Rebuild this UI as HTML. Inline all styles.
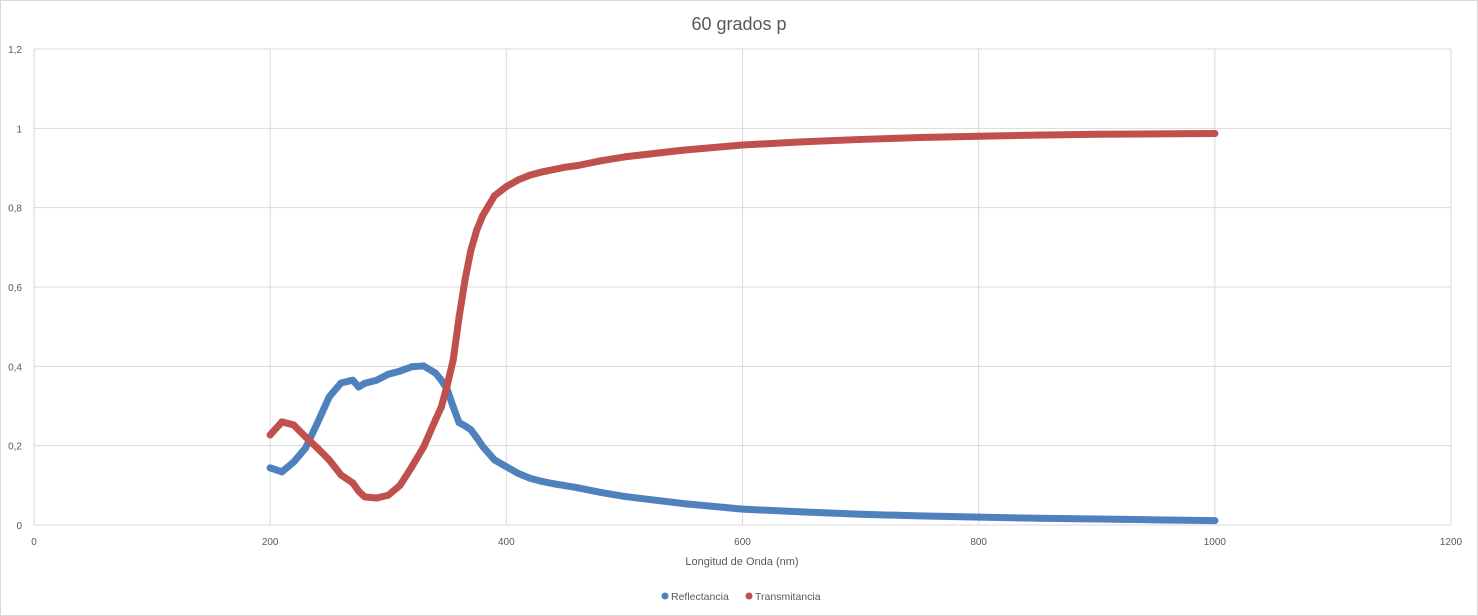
<!DOCTYPE html>
<html><head><meta charset="utf-8"><style>
body{margin:0;background:#fff}
svg{display:block;font-family:"Liberation Sans",sans-serif}
</style></head><body>
<svg id="chart" width="1478" height="616">
<rect x="0.5" y="0.5" width="1477" height="615" fill="#fff" stroke="#d9d9d9"/>
<text x="739" y="30" text-anchor="middle" font-size="18" fill="#595959">60 grados p</text>
<g id="grid"></g><g id="ticks"></g><g id="series"></g>
<text x="742" y="565" text-anchor="middle" font-size="11" fill="#595959">Longitud de Onda (nm)</text>
<g>
<g><circle cx="665" cy="596" r="3.5" fill="#4f81bd"/><text x="671" y="600" font-size="10.5" fill="#595959">Reflectancia</text></g>
<g><circle cx="749" cy="596" r="3.5" fill="#c0504d"/><text x="755" y="600" font-size="10.5" fill="#595959">Transmitancia</text></g>
</g>
</svg>
<script>
const wavelengths=[200,210,220,230,240,250,260,270,275,280,290,300,310,320,330,340,345,350,355,360,365,370,375,380,390,400,410,420,430,440,450,460,480,500,550,600,650,700,750,800,850,900,950,1000];
const reflectancia=[0.144,0.134,0.159,0.194,0.257,0.323,0.358,0.365,0.348,0.357,0.365,0.38,0.388,0.399,0.401,0.383,0.365,0.341,0.298,0.258,0.25,0.24,0.22,0.198,0.164,0.147,0.13,0.118,0.11,0.104,0.099,0.094,0.082,0.072,0.054,0.04,0.033,0.027,0.023,0.02,0.017,0.015,0.013,0.011];
const transmitancia=[0.227,0.26,0.252,0.222,0.194,0.164,0.126,0.106,0.085,0.071,0.068,0.075,0.1,0.147,0.197,0.265,0.298,0.353,0.416,0.524,0.618,0.693,0.744,0.78,0.83,0.853,0.87,0.882,0.89,0.896,0.902,0.906,0.918,0.928,0.945,0.958,0.966,0.972,0.977,0.98,0.983,0.985,0.986,0.987];
const xTicks=[0,200,400,600,800,1000,1200];
const yTicks=[0,0.2,0.4,0.6,0.8,1,1.2];
const yLabels=["0","0,2","0,4","0,6","0,8","1","1,2"];
const NS="http://www.w3.org/2000/svg";
const X=v=>34+v*(1417/1200), Y=v=>525-v*(476/1.2);
const grid=document.getElementById('grid'),ticks=document.getElementById('ticks'),ser=document.getElementById('series');
function mk(tag,a,p){const e=document.createElementNS(NS,tag);for(const k in a)e.setAttribute(k,a[k]);p.appendChild(e);return e;}
xTicks.forEach(t=>{
 const l=mk('line',{x1:X(t),x2:X(t),y1:Y(0),y2:Y(1.2),stroke:'#d9d9d9'},grid);
 
 
 const tx=mk('text',{x:X(t),y:545,'text-anchor':'middle','font-size':10,fill:'#595959'},ticks);tx.textContent=t;
 
 
});
yTicks.forEach((t,i)=>{
 const l=mk('line',{x1:X(0),x2:X(1200),y1:Y(t),y2:Y(t),stroke:'#d9d9d9'},grid);
 
 
 const tx=mk('text',{x:22,y:Y(t)+4,'text-anchor':'end','font-size':10,fill:'#595959'},ticks);tx.textContent=yLabels[i];
 
 
});
function draw(vals,color,name){
 const g=mk('g',{},ser);
 
 
 const pts=wavelengths.map((w,i)=>X(w)+','+Y(vals[i])).join(' ');
 const pl=mk('polyline',{points:pts,fill:'none',stroke:color,'stroke-width':7,'stroke-linejoin':'round','stroke-linecap':'round'},g);
 
 
 wavelengths.forEach((w,i)=>{
  const c=mk('circle',{cx:X(w),cy:Y(vals[i]),r:3.5,fill:color},g);
  
  
 });
}
draw(reflectancia,'#4f81bd','reflectancia');
draw(transmitancia,'#c0504d','transmitancia');
</script>
</body></html>
